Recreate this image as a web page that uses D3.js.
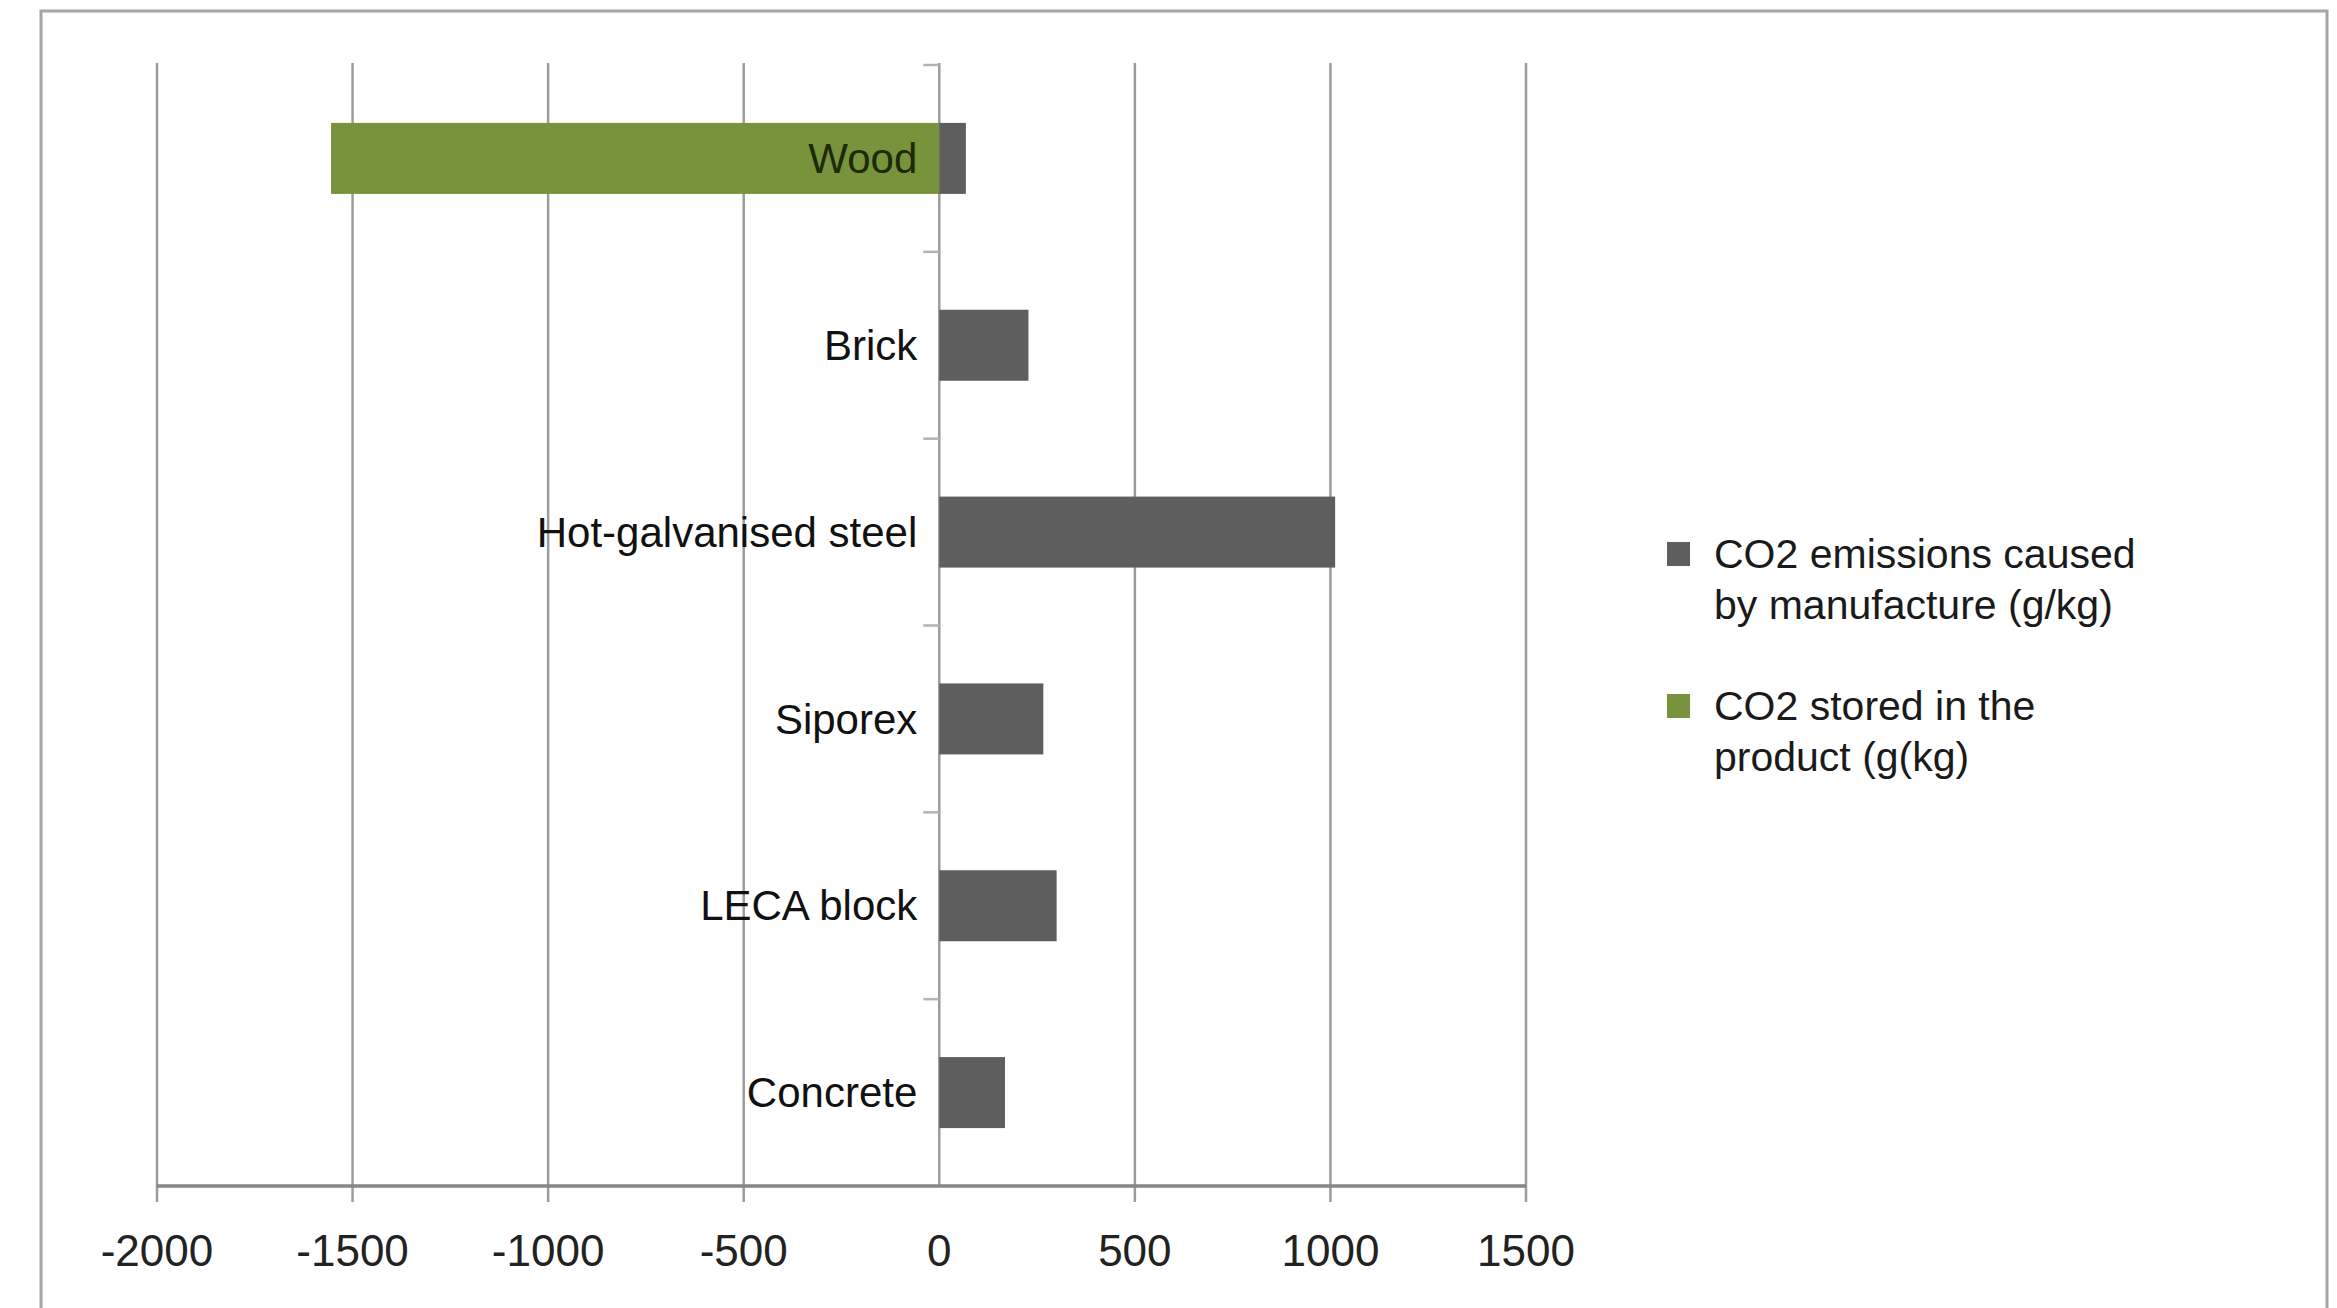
<!DOCTYPE html>
<html>
<head>
<meta charset="utf-8">
<script src="https://cdn.jsdelivr.net/npm/d3@7"></script>
<style>
  body { margin: 0; background: #fff; }
  svg { display: block; font-family: "Liberation Sans", Arial, sans-serif; }
</style>
</head>
<body>
<svg id="chart" width="2337" height="1308"></svg>
<script>
// data
const categories = ["Wood", "Brick", "Hot-galvanised steel", "Siporex", "LECA block", "Concrete"];
const emissions = [68, 228, 1012, 266, 300, 168];   // CO2 emissions caused by manufacture (g/kg)
const stored = [-1555, 0, 0, 0, 0, 0];              // CO2 stored in the product (g/kg)
const xTicks = [-2000, -1500, -1000, -500, 0, 500, 1000, 1500];
const seriesNames = [
    ["CO2 emissions caused", "by manufacture (g/kg)"],
    ["CO2 stored in the", "product (g(kg)"]
];
const seriesColors = ["#5e5e5e", "#77933c"];

const svg = d3.select("#chart");

// outer frame
svg.append("rect")
    .attr("x", 41).attr("y", 11)
    .attr("width", 2286).attr("height", 1320)
    .attr("fill", "none")
    .attr("stroke", "#a6a6a6")
    .attr("stroke-width", 3);

const x = d3.scaleLinear().domain([-2000, 1500]).range([157, 1526]);
const y = d3.scaleBand().domain(categories).range([65, 1186]);
const barH = y.bandwidth() * 0.38;
const barOff = (y.bandwidth() - barH) / 2;

// vertical gridlines, drawn through the axis so they poke below as ticks
svg.append("g")
    .selectAll("line")
    .data(xTicks)
    .join("line")
    .attr("x1", d => x(d)).attr("x2", d => x(d))
    .attr("y1", 63).attr("y2", d => d === 0 ? 1186 : 1202)
    .attr("stroke", "#9c9c9c")
    .attr("stroke-width", 2.5);

// category tick marks on the zero axis
svg.append("g")
    .selectAll("line")
    .data(categories)
    .join("line")
    .attr("x1", x(0) - 16).attr("x2", x(0))
    .attr("y1", d => y(d)).attr("y2", d => y(d))
    .attr("stroke", "#b3b3b3")
    .attr("stroke-width", 2.5);

// stored (negative) series
svg.append("g")
    .selectAll("rect")
    .data(categories.map((c, i) => ({c, v: stored[i]})).filter(d => d.v !== 0))
    .join("rect")
    .attr("x", d => x(Math.min(0, d.v)))
    .attr("y", d => y(d.c) + barOff)
    .attr("width", d => Math.abs(x(d.v) - x(0)))
    .attr("height", barH)
    .attr("fill", seriesColors[1]);

// emission series
svg.append("g")
    .selectAll("rect")
    .data(categories.map((c, i) => ({c, v: emissions[i]})))
    .join("rect")
    .attr("x", x(0))
    .attr("y", d => y(d.c) + barOff)
    .attr("width", d => x(d.v) - x(0))
    .attr("height", barH)
    .attr("fill", seriesColors[0]);

// bottom axis line
svg.append("line")
    .attr("x1", x(-2000)).attr("x2", x(1500))
    .attr("y1", 1186).attr("y2", 1186)
    .attr("stroke", "#868686")
    .attr("stroke-width", 3.5);

// tick labels
svg.append("g")
    .selectAll("text")
    .data(xTicks)
    .join("text")
    .attr("x", d => x(d))
    .attr("y", 1251)
    .attr("dy", "0.35em")
    .attr("text-anchor", "middle")
    .attr("font-size", 44)
    .attr("fill", "#222")
    .text(d => d < 0 ? "-" + Math.abs(d) : d);

// category labels
svg.append("g")
    .selectAll("text")
    .data(categories)
    .join("text")
    .attr("x", x(0) - 22)
    .attr("y", d => y(d) + y.bandwidth() / 2)
    .attr("dy", "0.35em")
    .attr("text-anchor", "end")
    .attr("font-size", 42)
    .attr("fill", (d, i) => stored[i] !== 0 ? "#1c2a06" : "#111")
    .text(d => d);

// legend
const legend = svg.append("g")
    .selectAll("g")
    .data(seriesNames)
    .join("g")
    .attr("transform", (d, i) => `translate(1667,${554 + i * 152})`);

legend.append("rect")
    .attr("x", 0).attr("y", -12)
    .attr("width", 23).attr("height", 24)
    .attr("fill", (d, i) => seriesColors[i]);

legend.selectAll("text")
    .data(d => d)
    .join("text")
    .attr("x", 47)
    .attr("y", (d, j) => j * 51)
    .attr("dy", "0.35em")
    .attr("font-size", 41)
    .attr("fill", "#1a1a1a")
    .text(d => d);
</script>
</body>
</html>
